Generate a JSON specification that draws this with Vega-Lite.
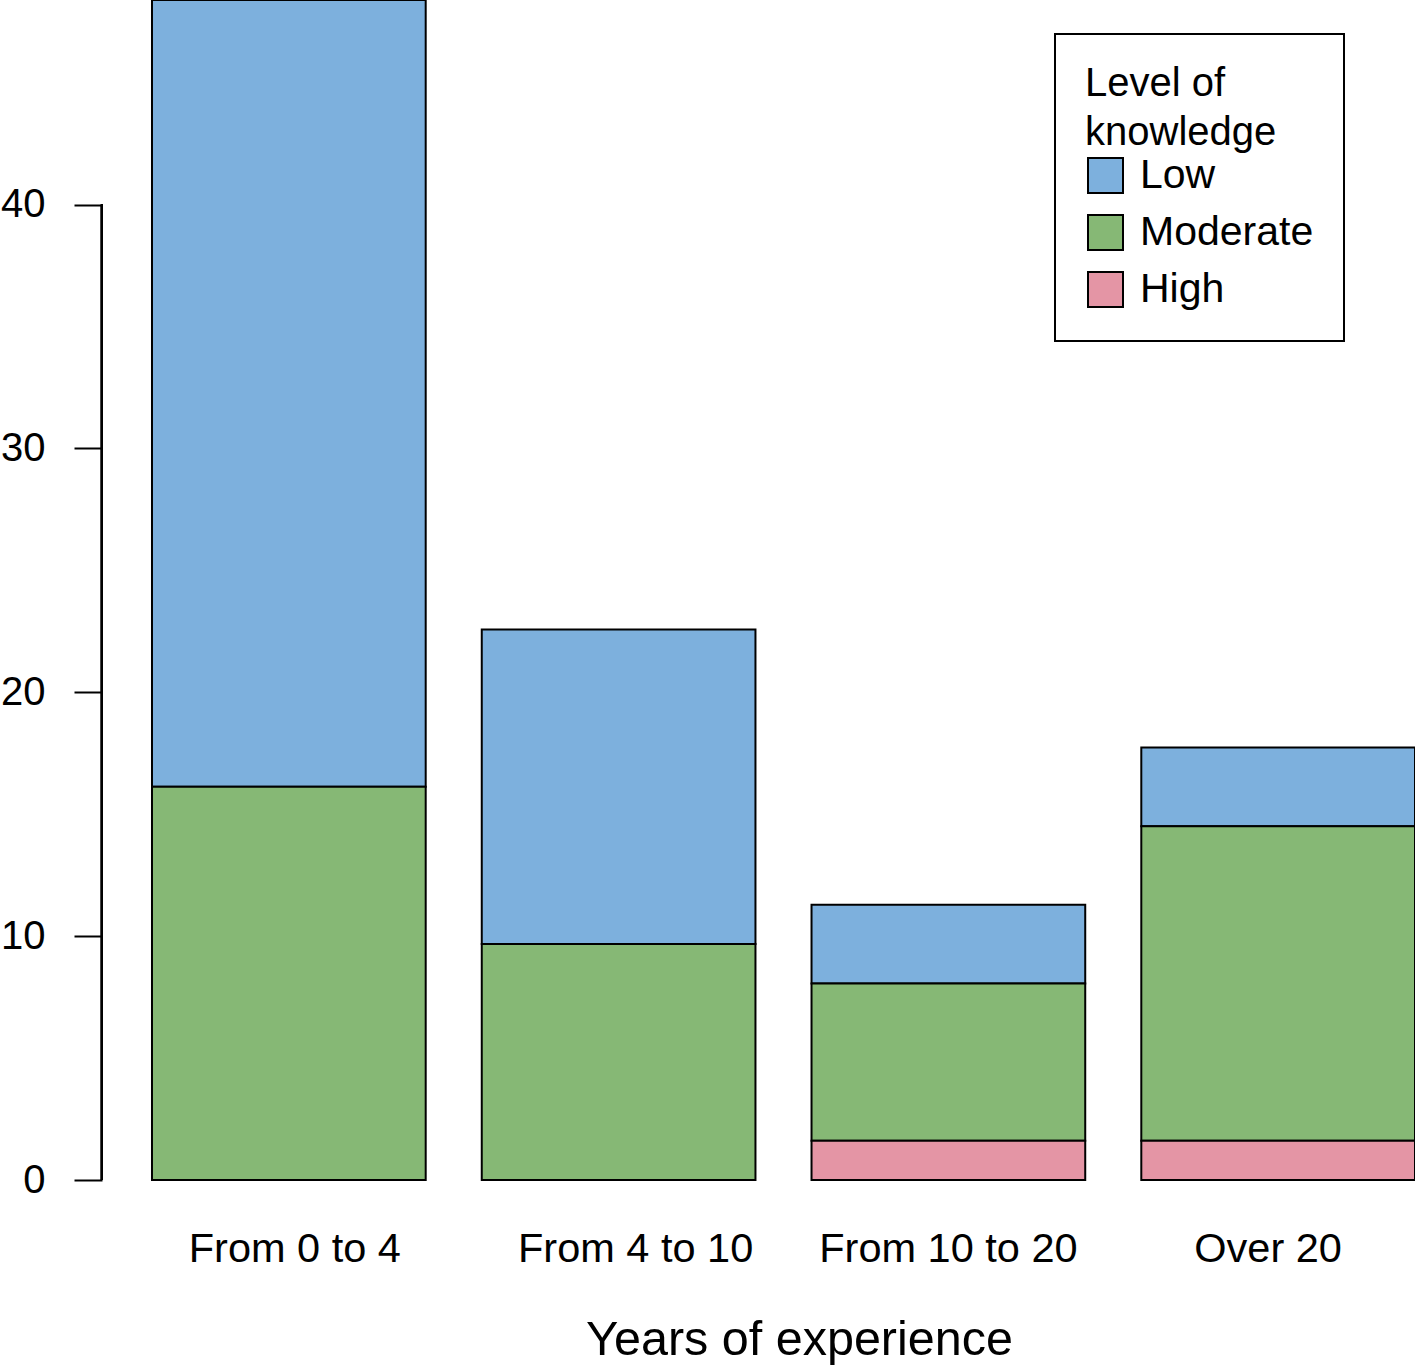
{
  "$schema": "https://vega.github.io/schema/vega-lite/v6.json",
  "background": "white",
  "autosize": {"type": "none"},
  "width": 1313,
  "height": 1180,
  "padding": {"left": 102, "top": 0, "right": 0, "bottom": 189},
  "data": {
    "values": [
      {"experience": "From 0 to 4", "level": "Low", "percent": 32.26},
      {"experience": "From 0 to 4", "level": "Moderate", "percent": 16.13},
      {"experience": "From 0 to 4", "level": "High", "percent": 0},
      {"experience": "From 4 to 10", "level": "Low", "percent": 12.90},
      {"experience": "From 4 to 10", "level": "Moderate", "percent": 9.68},
      {"experience": "From 4 to 10", "level": "High", "percent": 0},
      {"experience": "From 10 to 20", "level": "Low", "percent": 3.23},
      {"experience": "From 10 to 20", "level": "Moderate", "percent": 6.45},
      {"experience": "From 10 to 20", "level": "High", "percent": 1.61},
      {"experience": "Over 20", "level": "Low", "percent": 3.23},
      {"experience": "Over 20", "level": "Moderate", "percent": 12.90},
      {"experience": "Over 20", "level": "High", "percent": 1.61}
    ]
  },
  "layer": [
    {
      "transform": [
        {"calculate": "indexof(['High', 'Moderate', 'Low'], datum.level)", "as": "stackOrder"}
      ],
      "mark": {"type": "bar", "stroke": "black", "strokeWidth": 2, "opacity": 1},
      "encoding": {
        "x": {
          "field": "experience",
          "type": "nominal",
          "sort": ["From 0 to 4", "From 4 to 10", "From 10 to 20", "Over 20"],
          "scale": {"paddingInner": 0.17, "paddingOuter": 0.0758, "align": 1},
          "axis": {
            "title": "Years of experience",
            "titleFontSize": 48.5,
            "titleFontWeight": "normal",
            "titleX": 697,
            "titlePadding": 47,
            "labelFontSize": 41.5,
            "labelAngle": 0,
            "labelPadding": 48,
            "labelLimit": 0,
            "labelOffset": {
              "condition": [
                {"test": "datum.value === 'From 0 to 4'", "value": 6},
                {"test": "datum.value === 'From 4 to 10'", "value": 17},
                {"test": "datum.value === 'Over 20'", "value": -10}
              ],
              "value": 0
            },
            "domain": false,
            "ticks": false
          }
        },
        "y": {
          "field": "percent",
          "type": "quantitative",
          "stack": "zero",
          "scale": {"domain": [0, 48.39], "nice": false},
          "axis": {
            "title": null,
            "values": [0, 10, 20, 30, 40],
            "domain": false,
            "grid": false,
            "tickSize": 28,
            "tickWidth": 2,
            "tickColor": "black",
            "labelFontSize": 40,
            "labelPadding": 29
          }
        },
        "color": {
          "field": "level",
          "type": "nominal",
          "scale": {
            "domain": ["Low", "Moderate", "High"],
            "range": ["#7DB0DD", "#86B875", "#E495A5"]
          },
          "legend": {
            "title": ["Level of", "knowledge"],
            "orient": "none",
            "legendX": 953,
            "legendY": 34,
            "padding": 30,
            "strokeColor": "black",
            "fillColor": "white",
            "titleFontSize": 40,
            "titleFontWeight": "normal",
            "titleLineHeight": 49,
            "titlePadding": 2,
            "titleLimit": 0,
            "labelFontSize": 41,
            "labelOffset": 14,
            "labelLimit": 0,
            "rowPadding": 14,
            "symbolType": "square",
            "symbolSize": 1225,
            "symbolStrokeColor": "black",
            "symbolStrokeWidth": 2,
            "symbolOpacity": 1
          }
        },
        "order": {"field": "stackOrder", "type": "quantitative", "sort": "ascending"}
      }
    },
    {
      "mark": {"type": "rule", "stroke": "black", "strokeWidth": 2},
      "encoding": {
        "x": {"datum": "From 0 to 4", "bandPosition": -0.183},
        "y": {"datum": 0},
        "y2": {"datum": 40}
      }
    }
  ],
  "config": {
    "font": "Liberation Sans",
    "view": {"stroke": null},
    "axis": {"labelColor": "black", "titleColor": "black"},
    "legend": {"labelColor": "black", "titleColor": "black", "strokeWidth": 2}
  }
}
